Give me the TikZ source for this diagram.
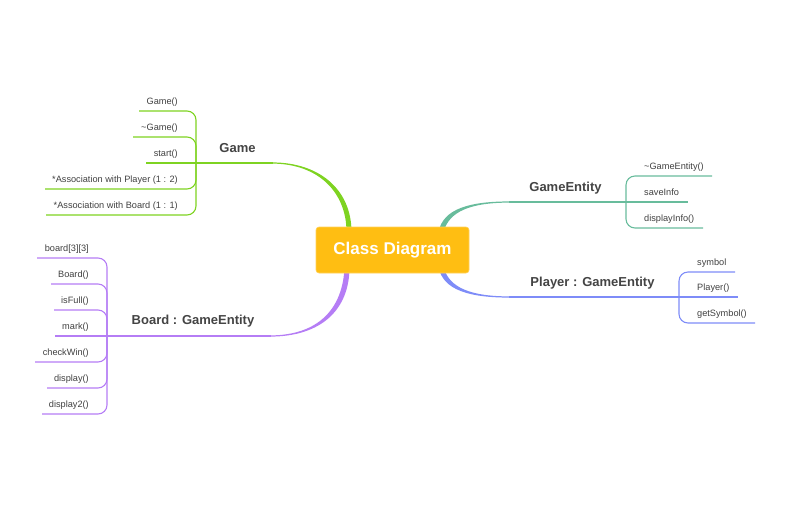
\documentclass[tikz,border=0pt]{standalone}
\usepackage{fontspec}
\setmainfont{Liberation Sans}
\definecolor{ggreen}{HTML}{7ED321}
\definecolor{gteal}{HTML}{68BC9C}
\definecolor{gblue}{HTML}{7E8CF8}
\definecolor{gpurple}{HTML}{B57DF5}
\definecolor{boxamber}{HTML}{FFBE12}
\definecolor{boxedge}{HTML}{FFD15A}
\definecolor{leafgray}{HTML}{404040}
\definecolor{labgray}{HTML}{444444}
\begin{document}
\begin{tikzpicture}[x=1pt,y=-1pt,
  leaf/.style={font=\fontsize{9.2}{11}\selectfont, text=leafgray, inner sep=0pt},
  branchlab/.style={font=\fontsize{13}{15}\selectfont\bfseries, text=labgray, inner sep=0pt},
  thin/.style={line width=1.1pt, rounded corners=9pt},
  mainln/.style={line width=1.3pt},
  centerbox/.style={fill=boxamber, draw=boxedge, line width=0.6pt, rounded corners=3pt,
    minimum width=153pt, minimum height=46pt, text=white,
    font=\fontsize{17}{20}\selectfont\bfseries}]
\useasboundingbox (0,0) rectangle (792,528);

% ---------- thick tapered connectors (behind box) ----------
\fill[ggreen] (272,162.4) .. controls (320,162.4) and (351.5,190) .. (351.5,232)
  -- (346.5,232) .. controls (346.5,192) and (318,163.6) .. (272,163.6) -- cycle;
\fill[gteal] (510,201.4) .. controls (470,201.4) and (443,208.5) .. (438.5,232)
  -- (443.5,232) .. controls (449,211.5) and (470,202.6) .. (510,202.6) -- cycle;
\fill[gblue] (510,297.6) .. controls (470,297.6) and (443,290.5) .. (438.5,267)
  -- (443.5,267) .. controls (449,287.5) and (470,296.4) .. (510,296.4) -- cycle;
\fill[gpurple] (270,336.6) .. controls (321,336.6) and (349.5,310) .. (349.5,267)
  -- (344.5,267) .. controls (343,308) and (319,335.4) .. (270,335.4) -- cycle;

% ---------- central node ----------
\node[centerbox] (root) at (392.5,250) {Class Diagram};

% ---------- Game ----------
\coordinate (gj) at (196,163);
\coordinate (gend) at (273,163);
\draw[ggreen, mainln] (gj) -- (gend);
\node[branchlab] (game) at (237.5,148) {Game};
\coordinate (g1e) at (139,111);
\coordinate (g2e) at (133,137);
\coordinate (g3e) at (146,163);
\coordinate (g4e) at (45,189);
\coordinate (g5e) at (46,215);
\draw[ggreen, thin] (gj) -- (196,111) -- (g1e);
\draw[ggreen, thin] (gj) -- (196,137) -- (g2e);
\draw[ggreen, thin] (gj) -- (g3e);
\draw[ggreen, thin] (gj) -- (196,189) -- (g4e);
\draw[ggreen, thin] (gj) -- (196,215) -- (g5e);
\node[leaf, anchor=base east] (g1) at (178,104.3) {Game()};
\node[leaf, anchor=base east] (g2) at (178,130.3) {\char"7E Game()};
\node[leaf, anchor=base east] (g3) at (178,156.3) {start()};
\node[leaf, anchor=base east] (g4) at (178,182.3) {*Association with Player (1 : 2)};
\node[leaf, anchor=base east] (g5) at (178,208.3) {*Association with Board (1 : 1)};

% ---------- GameEntity ----------
\coordinate (ej) at (626,202);
\coordinate (estart) at (509,202);
\draw[gteal, mainln] (estart) -- (ej);
\node[branchlab] (ge) at (565.5,188) {GameEntity};
\coordinate (e1e) at (712,176);
\coordinate (e2e) at (688,202);
\coordinate (e3e) at (703,228);
\draw[gteal, thin] (ej) -- (626,176) -- (e1e);
\draw[gteal, thin] (ej) -- (e2e);
\draw[gteal, thin] (ej) -- (626,228) -- (e3e);
\node[leaf, anchor=base west] (e1) at (644,169) {\char"7E GameEntity()};
\node[leaf, anchor=base west] (e2) at (644,195) {saveInfo};
\node[leaf, anchor=base west] (e3) at (644,221) {displayInfo()};

% ---------- Player ----------
\coordinate (pj) at (679,297);
\coordinate (pstart) at (509,297);
\draw[gblue, mainln] (pstart) -- (pj);
\node[branchlab] (pl) at (592.5,283) {Player : GameEntity};
\coordinate (p1e) at (735,272);
\coordinate (p2e) at (738,297);
\coordinate (p3e) at (755,323);
\draw[gblue, thin] (pj) -- (679,272) -- (p1e);
\draw[gblue, thin] (pj) -- (p2e);
\draw[gblue, thin] (pj) -- (679,323) -- (p3e);
\node[leaf, anchor=base west] (p1) at (697,265) {symbol};
\node[leaf, anchor=base west] (p2) at (697,290) {Player()};
\node[leaf, anchor=base west] (p3) at (697,316) {getSymbol()};

% ---------- Board ----------
\coordinate (bj) at (107,336);
\coordinate (bend) at (271,336);
\draw[gpurple, mainln] (bj) -- (bend);
\node[branchlab] (bd) at (193,321) {Board : GameEntity};
\coordinate (b1e) at (37,258);
\coordinate (b2e) at (51,284);
\coordinate (b3e) at (54,310);
\coordinate (b4e) at (55,336);
\coordinate (b5e) at (35,362);
\coordinate (b6e) at (47,388);
\coordinate (b7e) at (42,414);
\draw[gpurple, thin] (bj) -- (107,258) -- (b1e);
\draw[gpurple, thin] (bj) -- (107,284) -- (b2e);
\draw[gpurple, thin] (bj) -- (107,310) -- (b3e);
\draw[gpurple, thin] (bj) -- (b4e);
\draw[gpurple, thin] (bj) -- (107,362) -- (b5e);
\draw[gpurple, thin] (bj) -- (107,388) -- (b6e);
\draw[gpurple, thin] (bj) -- (107,414) -- (b7e);
\node[leaf, anchor=base east] (b1) at (89,251.3) {board[3][3]};
\node[leaf, anchor=base east] (b2) at (89,277.3) {Board()};
\node[leaf, anchor=base east] (b3) at (89,303.3) {isFull()};
\node[leaf, anchor=base east] (b4) at (89,329.3) {mark()};
\node[leaf, anchor=base east] (b5) at (89,355.3) {checkWin()};
\node[leaf, anchor=base east] (b6) at (89,381.3) {display()};
\node[leaf, anchor=base east] (b7) at (89,407.3) {display2()};
\end{tikzpicture}
\end{document}
